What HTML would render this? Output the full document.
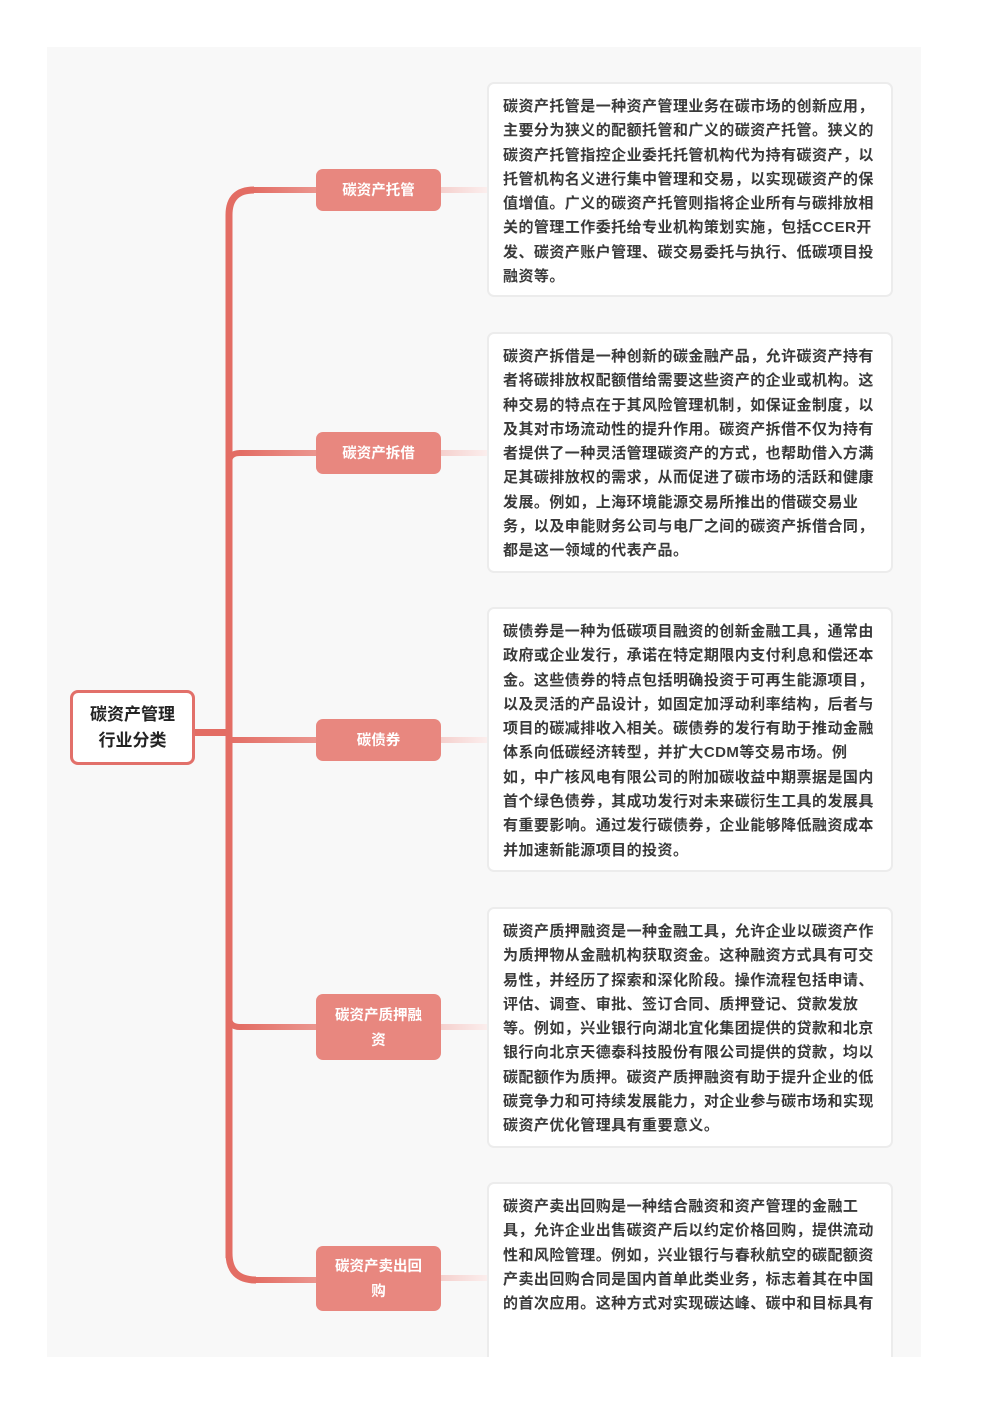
<!DOCTYPE html>
<html><head><meta charset="utf-8"><style>
body{margin:0;width:992px;height:1403px;background:#fff;position:relative;overflow:hidden;font-family:"Liberation Sans","Noto Sans CJK SC",sans-serif}
.bg{position:absolute;left:47px;top:47px;width:874px;height:1310px;background:#f8f8f8;overflow:hidden}
.root{position:absolute;left:70px;top:690px;width:119px;height:69px;border:3px solid #e2706a;border-radius:8px;background:#fff;display:flex;align-items:center;justify-content:center;text-align:center;font-size:17px;font-weight:bold;line-height:26px;color:#222}
.br{position:absolute;left:316px;width:125px;background:#e8877f;border-radius:7px;color:#fff;font-size:14.5px;font-weight:bold;display:flex;align-items:center;justify-content:center;text-align:center;line-height:25px}
.box{position:absolute;left:487px;width:406px;background:#fff;border:2px solid #ececec;border-radius:7px;box-sizing:border-box;padding:11px 0 0 14px;font-size:15px;letter-spacing:0.45px;font-weight:bold;color:#3a3a3a;line-height:24.3px;white-space:nowrap}
</style></head><body>
<div class="bg">
<svg width="874" height="1310" style="position:absolute;left:0;top:0" viewBox="47 47 874 1310">
<defs><linearGradient id="g" x1="0" x2="1"><stop offset="0" stop-color="#e36d64"/><stop offset="1" stop-color="#eb968f"/></linearGradient>
<linearGradient id="p" x1="0" x2="1"><stop offset="0" stop-color="#f5d0cd"/><stop offset="1" stop-color="#fbeeed"/></linearGradient></defs>
<path d="M229,1258 V215 Q229,190 254,190" fill="none" stroke="#e36d64" stroke-width="7"/>
<path d="M229,1253 Q229,1280 256,1280" fill="none" stroke="#e36d64" stroke-width="7"/>
<rect x="254" y="187" width="62" height="6" fill="url(#g)"/>
<rect x="256" y="1277" width="60" height="6" fill="url(#g)"/>
<path d="M229,463 Q229,453 240,453" fill="none" stroke="#e36d64" stroke-width="6"/>
<rect x="239" y="450" width="77" height="6" fill="url(#g)"/>
<rect x="229" y="737" width="87" height="6" fill="url(#g)"/>
<path d="M229,1017 Q229,1027 240,1027" fill="none" stroke="#e36d64" stroke-width="6"/>
<rect x="239" y="1024" width="77" height="6" fill="url(#g)"/>
<rect x="192" y="729" width="37" height="7" fill="#e36d64"/>
<rect x="441" y="187" width="46" height="6" fill="url(#p)"/>
<rect x="441" y="450" width="46" height="6" fill="url(#p)"/>
<rect x="441" y="737" width="46" height="6" fill="url(#p)"/>
<rect x="441" y="1024" width="46" height="6" fill="url(#p)"/>
<rect x="441" y="1275" width="46" height="6" fill="url(#p)"/>
</svg>
</div>
<div class="root">碳资产管理<br>行业分类</div>
<div class="br" style="top:169px;height:42px;padding-top:3px;box-sizing:border-box">碳资产托管</div>
<div class="br" style="top:432px;height:42px;padding-top:3px;box-sizing:border-box">碳资产拆借</div>
<div class="br" style="top:719px;height:42px;padding-top:3px;box-sizing:border-box">碳债券</div>
<div class="br" style="top:994px;height:66px;padding-top:3px;box-sizing:border-box">碳资产质押融<br>资</div>
<div class="br" style="top:1246px;height:65px;padding-top:3px;box-sizing:border-box">碳资产卖出回<br>购</div>
<div class="box" style="top:82px;height:215px">碳资产托管是一种资产管理业务在碳市场的创新应用，<br>主要分为狭义的配额托管和广义的碳资产托管。狭义的<br>碳资产托管指控企业委托托管机构代为持有碳资产，以<br>托管机构名义进行集中管理和交易，以实现碳资产的保<br>值增值。广义的碳资产托管则指将企业所有与碳排放相<br>关的管理工作委托给专业机构策划实施，包括CCER开<br>发、碳资产账户管理、碳交易委托与执行、低碳项目投<br>融资等。</div>
<div class="box" style="top:332px;height:241px">碳资产拆借是一种创新的碳金融产品，允许碳资产持有<br>者将碳排放权配额借给需要这些资产的企业或机构。这<br>种交易的特点在于其风险管理机制，如保证金制度，以<br>及其对市场流动性的提升作用。碳资产拆借不仅为持有<br>者提供了一种灵活管理碳资产的方式，也帮助借入方满<br>足其碳排放权的需求，从而促进了碳市场的活跃和健康<br>发展。例如，上海环境能源交易所推出的借碳交易业<br>务，以及申能财务公司与电厂之间的碳资产拆借合同，<br>都是这一领域的代表产品。</div>
<div class="box" style="top:607px;height:265px">碳债券是一种为低碳项目融资的创新金融工具，通常由<br>政府或企业发行，承诺在特定期限内支付利息和偿还本<br>金。这些债券的特点包括明确投资于可再生能源项目，<br>以及灵活的产品设计，如固定加浮动利率结构，后者与<br>项目的碳减排收入相关。碳债券的发行有助于推动金融<br>体系向低碳经济转型，并扩大CDM等交易市场。例<br>如，中广核风电有限公司的附加碳收益中期票据是国内<br>首个绿色债券，其成功发行对未来碳衍生工具的发展具<br>有重要影响。通过发行碳债券，企业能够降低融资成本<br>并加速新能源项目的投资。</div>
<div class="box" style="top:907px;height:241px">碳资产质押融资是一种金融工具，允许企业以碳资产作<br>为质押物从金融机构获取资金。这种融资方式具有可交<br>易性，并经历了探索和深化阶段。操作流程包括申请、<br>评估、调查、审批、签订合同、质押登记、贷款发放<br>等。例如，兴业银行向湖北宜化集团提供的贷款和北京<br>银行向北京天德泰科技股份有限公司提供的贷款，均以<br>碳配额作为质押。碳资产质押融资有助于提升企业的低<br>碳竞争力和可持续发展能力，对企业参与碳市场和实现<br>碳资产优化管理具有重要意义。</div>
<div class="box" style="top:1182px;height:175px;border-bottom:none;border-radius:7px 7px 0 0">碳资产卖出回购是一种结合融资和资产管理的金融工<br>具，允许企业出售碳资产后以约定价格回购，提供流动<br>性和风险管理。例如，兴业银行与春秋航空的碳配额资<br>产卖出回购合同是国内首单此类业务，标志着其在中国<br>的首次应用。这种方式对实现碳达峰、碳中和目标具有</div>
</body></html>
